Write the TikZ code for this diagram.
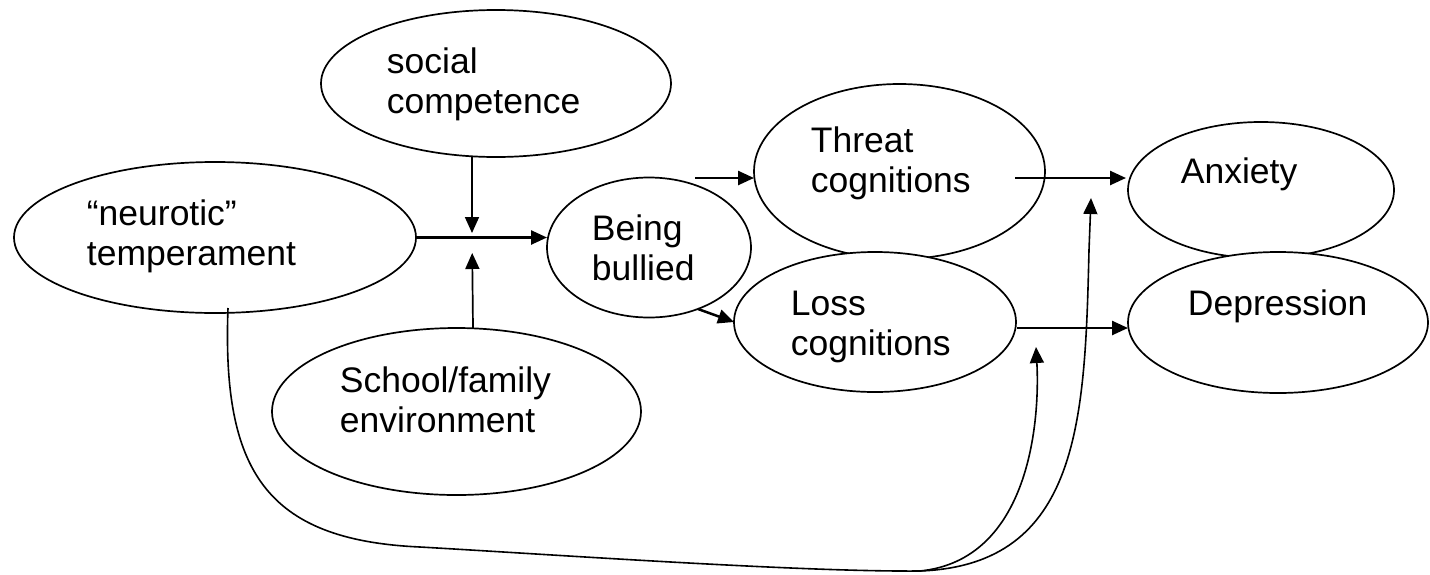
\documentclass[tikz,border=0pt]{standalone}
\usepackage{fontspec}
\setmainfont{Liberation Sans}
\usetikzlibrary{arrows.meta,shapes.geometric}
\newcommand\mytwo[2]{\vtop{\hbox{#1}\hbox{#2}}}
\begin{document}
\begin{tikzpicture}[x=0.5pt,y=-0.5pt,
  oval/.style={ellipse, draw, fill=white, line width=0.85pt, inner sep=0pt, outer sep=0pt},
  lbl/.style={anchor=base west, inner sep=0pt, font=\fontsize{17.75}{20.25}\selectfont},
  arr/.style={line width=1.25pt, -{Triangle[length=8pt,width=7pt]}},
  thinarr/.style={line width=0.85pt, -{Triangle[length=8pt,width=7pt]}},
  link/.style={line width=0.8pt}]
\useasboundingbox (0,0) rectangle (1430,574);
% ellipses
\node[oval, minimum width=175pt, minimum height=73.5pt] (soc) at (496,83.5) {};
\node[oval, minimum width=201pt, minimum height=75.5pt] (neu) at (215,237.5) {};
\node[oval, minimum width=102pt, minimum height=70pt] (bul) at (649,247.5) {};
\node[oval, minimum width=184.5pt, minimum height=83.5pt] (sch) at (456.5,411.5) {};
\node[oval, minimum width=145.5pt, minimum height=87.5pt] (thr) at (899.5,171.5) {};
\node[oval, minimum width=133pt, minimum height=68pt] (anx) at (1261,190) {};
\node[oval, minimum width=141pt, minimum height=70pt] (los) at (875,322) {};
\node[oval, minimum width=150pt, minimum height=70.5pt] (dep) at (1278,322.5) {};
% labels
\node[lbl] (tsoc) at (386.5,73) {\mytwo{social}{competence}};
\node[lbl] (tneu) at (86.5,225) {\mytwo{“neurotic”}{temperament}};
\node[lbl] (tbul) at (591.5,240) {\mytwo{Being}{bullied}};
\node[lbl] (tsch) at (339.5,392) {\mytwo{School/family}{environment}};
\node[lbl] (tthr) at (810.5,152) {\mytwo{Threat}{cognitions}};
\node[lbl] (tlos) at (790.5,315) {\mytwo{Loss}{cognitions}};
\node[lbl] (tanx) at (1180.5,183) {Anxiety};
\node[lbl] (tdep) at (1187.5,315) {Depression};
% coordinates
\coordinate (m) at (472,235);
\coordinate (j) at (920,571);
\coordinate (tipL) at (1036,347);
\coordinate (tipA) at (1091,198);
\coordinate (kA) at (1089,250);
% straight connectors
\draw[arr] (neu.east) -- (neu.east -| bul.west);
\draw[thinarr, shorten >=1pt] ([xshift=-12pt]soc.south) -- (m);
\draw[thinarr, shorten >=9pt] ([xshift=8.25pt]sch.north) -- (m);
\draw[arr] ([shift={(46,0.5)}]bul.north) -- ([shift={(0,6.5)}]thr.west);
\draw[arr] ([shift={(49,61.5)}]bul.center) -- ([shift={(0,0)}]los.west);
\draw[arr] ([shift={(-30,6.5)}]thr.east) -- ([shift={(-2,-12)}]anx.west);
\draw[arr] ([shift={(1,6)}]los.east) -- ([shift={(0,5.5)}]dep.west);
% curved connector from temperament
\draw[link] ([shift={(13,70.5)}]neu.center) .. controls (222,470) and (265,540) .. (420,547)
  .. controls (560,555) and (800,572) .. (j);
\draw[link, -{Triangle[length=8pt,width=7pt]}] (j) .. controls (1030,560) and (1040,420) .. (tipL);
\draw[link, -{Triangle[length=8pt,width=7pt]}] (j) .. controls (1080,565) and (1085,420) .. (kA) -- (tipA);
\end{tikzpicture}
\end{document}
